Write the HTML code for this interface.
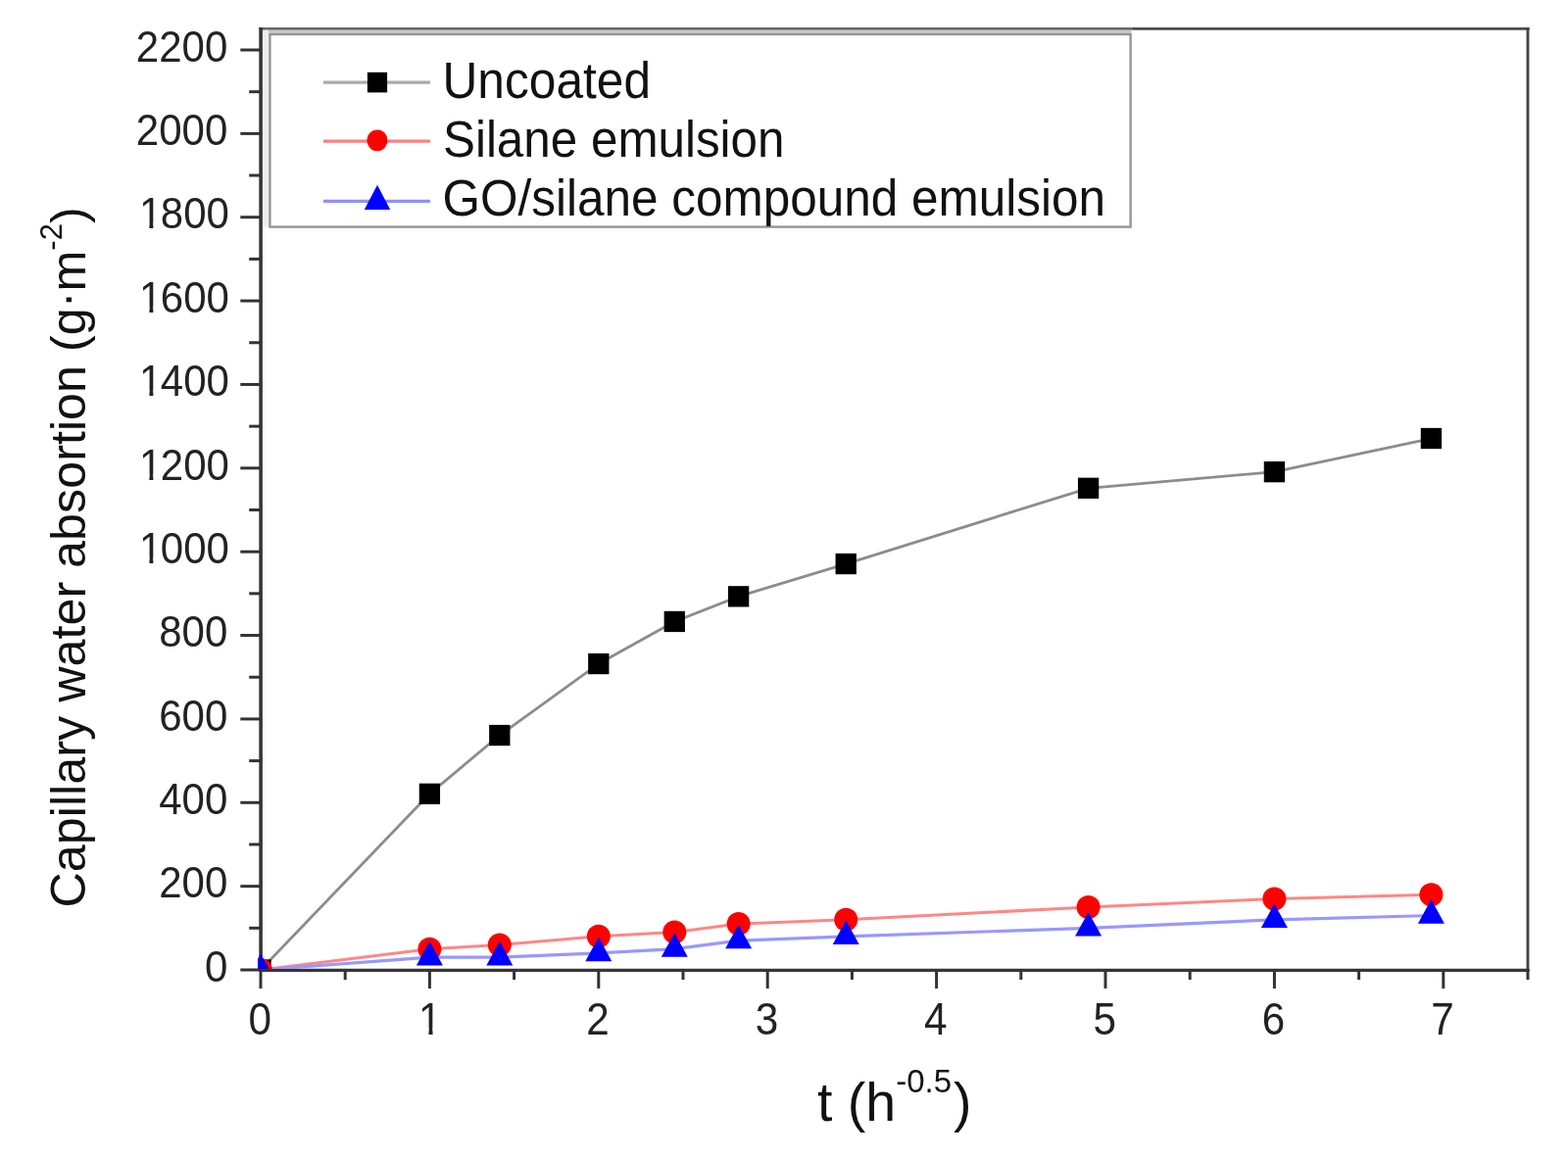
<!DOCTYPE html><html><head><meta charset="utf-8"><title>Capillary water absorption</title>
<style>html,body{margin:0;padding:0;background:#fff;overflow:hidden}svg{display:block}text{font-family:"Liberation Sans", sans-serif}</style></head><body>
<svg width="1600" height="1181" viewBox="0 0 1600 1181">
<rect width="1600" height="1181" fill="#fff"/>
<defs><clipPath id="pm"><rect x="263" y="29.7" width="1296.0" height="959.3"/></clipPath></defs>
<g stroke-linecap="butt">
<line x1="264.5" y1="29.4" x2="1156" y2="29.4" stroke="#686868" stroke-width="2.9"/>
<line x1="1156" y1="29.4" x2="1560.5" y2="29.4" stroke="#4d4d4d" stroke-width="2.9"/>
<line x1="1559.0" y1="28" x2="1559.0" y2="991.5" stroke="#444" stroke-width="2.9"/>
<line x1="266.1" y1="28" x2="266.1" y2="991.5" stroke="#363636" stroke-width="3.6"/>
<line x1="264.5" y1="990.3" x2="1560.5" y2="990.3" stroke="#363636" stroke-width="3.2"/>
<line x1="245.3" y1="990.00" x2="266" y2="990.00" stroke="#333" stroke-width="3"/>
<line x1="254.2" y1="947.32" x2="266" y2="947.32" stroke="#333" stroke-width="3"/>
<line x1="245.3" y1="904.64" x2="266" y2="904.64" stroke="#333" stroke-width="3"/>
<line x1="254.2" y1="861.95" x2="266" y2="861.95" stroke="#333" stroke-width="3"/>
<line x1="245.3" y1="819.27" x2="266" y2="819.27" stroke="#333" stroke-width="3"/>
<line x1="254.2" y1="776.59" x2="266" y2="776.59" stroke="#333" stroke-width="3"/>
<line x1="245.3" y1="733.91" x2="266" y2="733.91" stroke="#333" stroke-width="3"/>
<line x1="254.2" y1="691.23" x2="266" y2="691.23" stroke="#333" stroke-width="3"/>
<line x1="245.3" y1="648.54" x2="266" y2="648.54" stroke="#333" stroke-width="3"/>
<line x1="254.2" y1="605.86" x2="266" y2="605.86" stroke="#333" stroke-width="3"/>
<line x1="245.3" y1="563.18" x2="266" y2="563.18" stroke="#333" stroke-width="3"/>
<line x1="254.2" y1="520.50" x2="266" y2="520.50" stroke="#333" stroke-width="3"/>
<line x1="245.3" y1="477.82" x2="266" y2="477.82" stroke="#333" stroke-width="3"/>
<line x1="254.2" y1="435.13" x2="266" y2="435.13" stroke="#333" stroke-width="3"/>
<line x1="245.3" y1="392.45" x2="266" y2="392.45" stroke="#333" stroke-width="3"/>
<line x1="254.2" y1="349.77" x2="266" y2="349.77" stroke="#333" stroke-width="3"/>
<line x1="245.3" y1="307.09" x2="266" y2="307.09" stroke="#333" stroke-width="3"/>
<line x1="254.2" y1="264.41" x2="266" y2="264.41" stroke="#333" stroke-width="3"/>
<line x1="245.3" y1="221.72" x2="266" y2="221.72" stroke="#333" stroke-width="3"/>
<line x1="254.2" y1="179.04" x2="266" y2="179.04" stroke="#333" stroke-width="3"/>
<line x1="245.3" y1="136.36" x2="266" y2="136.36" stroke="#333" stroke-width="3"/>
<line x1="254.2" y1="93.68" x2="266" y2="93.68" stroke="#333" stroke-width="3"/>
<line x1="245.3" y1="51.00" x2="266" y2="51.00" stroke="#333" stroke-width="3"/>
<line x1="266.00" y1="990" x2="266.00" y2="1009" stroke="#333" stroke-width="3"/>
<line x1="352.20" y1="990" x2="352.20" y2="1000" stroke="#333" stroke-width="3"/>
<line x1="438.40" y1="990" x2="438.40" y2="1009" stroke="#333" stroke-width="3"/>
<line x1="524.60" y1="990" x2="524.60" y2="1000" stroke="#333" stroke-width="3"/>
<line x1="610.80" y1="990" x2="610.80" y2="1009" stroke="#333" stroke-width="3"/>
<line x1="697.00" y1="990" x2="697.00" y2="1000" stroke="#333" stroke-width="3"/>
<line x1="783.20" y1="990" x2="783.20" y2="1009" stroke="#333" stroke-width="3"/>
<line x1="869.40" y1="990" x2="869.40" y2="1000" stroke="#333" stroke-width="3"/>
<line x1="955.60" y1="990" x2="955.60" y2="1009" stroke="#333" stroke-width="3"/>
<line x1="1041.80" y1="990" x2="1041.80" y2="1000" stroke="#333" stroke-width="3"/>
<line x1="1128.00" y1="990" x2="1128.00" y2="1009" stroke="#333" stroke-width="3"/>
<line x1="1214.20" y1="990" x2="1214.20" y2="1000" stroke="#333" stroke-width="3"/>
<line x1="1300.40" y1="990" x2="1300.40" y2="1009" stroke="#333" stroke-width="3"/>
<line x1="1386.60" y1="990" x2="1386.60" y2="1000" stroke="#333" stroke-width="3"/>
<line x1="1472.80" y1="990" x2="1472.80" y2="1009" stroke="#333" stroke-width="3"/>
<line x1="1559.00" y1="990" x2="1559.00" y2="1000" stroke="#333" stroke-width="3"/>
</g>
<rect x="268" y="30.8" width="886.5" height="3" fill="#c8c8c8"/>
<rect x="268.5" y="30.8" width="5.5" height="201" fill="#eeeeee"/>
<rect x="275.4" y="35" width="878.2" height="196.6" fill="none" stroke="#959595" stroke-width="2.4"/>
<line x1="330" y1="84.1" x2="439" y2="84.1" stroke="#aaa" stroke-width="3.4"/>
<line x1="330" y1="144.1" x2="439" y2="144.1" stroke="#ff7f7f" stroke-width="3.2"/>
<line x1="330" y1="205.4" x2="439" y2="205.4" stroke="#9090ff" stroke-width="3.4"/>
<rect x="374.9" y="73.8" width="20.2" height="20.6" fill="#000"/>
<ellipse cx="385" cy="143.3" rx="10.5" ry="10.9" fill="#f00"/>
<polygon points="385.0,188.8 371.8,214.0 398.2,214.0" fill="#00f"/>
<text transform="translate(451.5,100) scale(1,1.045)" font-size="50" fill="#111" textLength="212.5" lengthAdjust="spacingAndGlyphs">Uncoated</text>
<text transform="translate(452,160) scale(1,1.045)" font-size="50" fill="#111" textLength="348.5" lengthAdjust="spacingAndGlyphs">Silane emulsion</text>
<text transform="translate(451.5,220) scale(1,1.045)" font-size="50" fill="#111" textLength="676.5" lengthAdjust="spacingAndGlyphs">GO/silane compound emulsion</text>
<g clip-path="url(#pm)" fill="none" stroke-linejoin="round">
<path d="M266.00,990.00 C266.00,990.00 438.40,810.31 438.40,810.31 C438.40,810.31 509.81,750.55 509.81,750.55 C509.81,750.55 610.80,677.57 610.80,677.57 C610.80,677.57 688.29,634.46 688.29,634.46 C688.29,634.46 753.62,608.85 753.62,608.85 C753.62,608.85 863.21,575.56 863.21,575.56 C863.21,575.56 1110.58,498.30 1110.58,498.30 C1110.58,498.30 1300.40,481.66 1300.40,481.66 C1300.40,481.66 1460.42,447.51 1460.42,447.51" stroke="#8c8c8c" stroke-width="2.8"/>
<path d="M266.00,990.00 C266.00,990.00 438.40,968.66 438.40,968.66 C438.40,968.66 509.81,964.39 509.81,964.39 C509.81,964.39 610.80,955.85 610.80,955.85 C610.80,955.85 688.29,951.59 688.29,951.59 C688.29,951.59 753.62,943.05 753.62,943.05 C753.62,943.05 863.21,938.78 863.21,938.78 C863.21,938.78 1110.58,925.98 1110.58,925.98 C1110.58,925.98 1300.40,917.44 1300.40,917.44 C1300.40,917.44 1460.42,913.17 1460.42,913.17" stroke="#ff8686" stroke-width="3.0"/>
<path d="M266.00,990.00 C266.00,990.00 438.40,977.20 438.40,977.20 C438.40,977.20 509.81,977.20 509.81,977.20 C509.81,977.20 610.80,972.93 610.80,972.93 C610.80,972.93 688.29,968.66 688.29,968.66 C688.29,968.66 753.62,960.12 753.62,960.12 C753.62,960.12 863.21,955.85 863.21,955.85 C863.21,955.85 1110.58,947.32 1110.58,947.32 C1110.58,947.32 1300.40,938.78 1300.40,938.78 C1300.40,938.78 1460.42,934.51 1460.42,934.51" stroke="#9898ff" stroke-width="3.2"/>
</g>
<g clip-path="url(#pm)">
<rect x="255.35" y="979.35" width="21.3" height="21.3" fill="#000"/>
<rect x="427.75" y="799.66" width="21.3" height="21.3" fill="#000"/>
<rect x="499.16" y="739.90" width="21.3" height="21.3" fill="#000"/>
<rect x="600.15" y="666.92" width="21.3" height="21.3" fill="#000"/>
<rect x="677.64" y="623.81" width="21.3" height="21.3" fill="#000"/>
<rect x="742.97" y="598.20" width="21.3" height="21.3" fill="#000"/>
<rect x="852.56" y="564.91" width="21.3" height="21.3" fill="#000"/>
<rect x="1099.93" y="487.65" width="21.3" height="21.3" fill="#000"/>
<rect x="1289.75" y="471.01" width="21.3" height="21.3" fill="#000"/>
<rect x="1449.77" y="436.86" width="21.3" height="21.3" fill="#000"/>
<circle cx="266.00" cy="990.00" r="12.0" fill="#f00"/>
<circle cx="438.40" cy="968.66" r="12.0" fill="#f00"/>
<circle cx="509.81" cy="964.39" r="12.0" fill="#f00"/>
<circle cx="610.80" cy="955.85" r="12.0" fill="#f00"/>
<circle cx="688.29" cy="951.59" r="12.0" fill="#f00"/>
<circle cx="753.62" cy="943.05" r="12.0" fill="#f00"/>
<circle cx="863.21" cy="938.78" r="12.0" fill="#f00"/>
<circle cx="1110.58" cy="925.98" r="12.0" fill="#f00"/>
<circle cx="1300.40" cy="917.44" r="12.0" fill="#f00"/>
<circle cx="1460.42" cy="913.17" r="12.0" fill="#f00"/>
<polygon points="266.00,973.60 252.50,998.20 279.50,998.20" fill="#00f"/>
<polygon points="438.40,960.80 424.90,985.40 451.90,985.40" fill="#00f"/>
<polygon points="509.81,960.80 496.31,985.40 523.31,985.40" fill="#00f"/>
<polygon points="610.80,956.53 597.30,981.13 624.30,981.13" fill="#00f"/>
<polygon points="688.29,952.26 674.79,976.86 701.79,976.86" fill="#00f"/>
<polygon points="753.62,943.72 740.12,968.32 767.12,968.32" fill="#00f"/>
<polygon points="863.21,939.45 849.71,964.05 876.71,964.05" fill="#00f"/>
<polygon points="1110.58,930.92 1097.08,955.52 1124.08,955.52" fill="#00f"/>
<polygon points="1300.40,922.38 1286.90,946.98 1313.90,946.98" fill="#00f"/>
<polygon points="1460.42,918.11 1446.92,942.71 1473.92,942.71" fill="#00f"/>
</g>
<text transform="translate(232.3,1001.75) scale(0.955,1)" font-size="44" fill="#222" text-anchor="end">0</text>
<text transform="translate(232.3,916.39) scale(0.955,1)" font-size="44" fill="#222" text-anchor="end">200</text>
<text transform="translate(232.3,831.02) scale(0.955,1)" font-size="44" fill="#222" text-anchor="end">400</text>
<text transform="translate(232.3,745.66) scale(0.955,1)" font-size="44" fill="#222" text-anchor="end">600</text>
<text transform="translate(232.3,660.29) scale(0.955,1)" font-size="44" fill="#222" text-anchor="end">800</text>
<text transform="translate(232.3,574.93) scale(0.955,1)" font-size="44" fill="#222" text-anchor="end"><tspan dx="1.7">1</tspan><tspan dx="-1.7">000</tspan></text>
<text transform="translate(232.3,489.57) scale(0.955,1)" font-size="44" fill="#222" text-anchor="end"><tspan dx="1.7">1</tspan><tspan dx="-1.7">200</tspan></text>
<text transform="translate(232.3,404.20) scale(0.955,1)" font-size="44" fill="#222" text-anchor="end"><tspan dx="1.7">1</tspan><tspan dx="-1.7">400</tspan></text>
<text transform="translate(232.3,318.84) scale(0.955,1)" font-size="44" fill="#222" text-anchor="end"><tspan dx="1.7">1</tspan><tspan dx="-1.7">600</tspan></text>
<text transform="translate(232.3,233.47) scale(0.955,1)" font-size="44" fill="#222" text-anchor="end"><tspan dx="1.7">1</tspan><tspan dx="-1.7">800</tspan></text>
<text transform="translate(232.3,148.11) scale(0.955,1)" font-size="44" fill="#222" text-anchor="end">2000</text>
<text transform="translate(232.3,62.75) scale(0.955,1)" font-size="44" fill="#222" text-anchor="end">2200</text>
<text transform="translate(265.20,1055.5) scale(0.96,1.045)" font-size="44" fill="#222" text-anchor="middle">0</text>
<text transform="translate(438.80,1055.5) scale(0.96,1.045)" font-size="44" fill="#222" text-anchor="middle">1</text>
<text transform="translate(610.00,1055.5) scale(0.96,1.045)" font-size="44" fill="#222" text-anchor="middle">2</text>
<text transform="translate(782.40,1055.5) scale(0.96,1.045)" font-size="44" fill="#222" text-anchor="middle">3</text>
<text transform="translate(954.80,1055.5) scale(0.96,1.045)" font-size="44" fill="#222" text-anchor="middle">4</text>
<text transform="translate(1127.20,1055.5) scale(0.96,1.045)" font-size="44" fill="#222" text-anchor="middle">5</text>
<text transform="translate(1299.60,1055.5) scale(0.96,1.045)" font-size="44" fill="#222" text-anchor="middle">6</text>
<text transform="translate(1472.00,1055.5) scale(0.96,1.045)" font-size="44" fill="#222" text-anchor="middle">7</text>
<rect x="144.3" y="568.93" width="8.1" height="6.4" fill="#fff"/><rect x="156.35" y="568.93" width="8.2" height="6.4" fill="#fff"/>
<rect x="144.3" y="483.57" width="8.1" height="6.4" fill="#fff"/><rect x="156.35" y="483.57" width="8.2" height="6.4" fill="#fff"/>
<rect x="144.3" y="398.20" width="8.1" height="6.4" fill="#fff"/><rect x="156.35" y="398.20" width="8.2" height="6.4" fill="#fff"/>
<rect x="144.3" y="312.84" width="8.1" height="6.4" fill="#fff"/><rect x="156.35" y="312.84" width="8.2" height="6.4" fill="#fff"/>
<rect x="144.3" y="227.47" width="8.1" height="6.4" fill="#fff"/><rect x="156.35" y="227.47" width="8.2" height="6.4" fill="#fff"/>
<rect x="429" y="1049.5" width="8.45" height="7" fill="#fff"/><rect x="441.55" y="1049.5" width="9" height="7" fill="#fff"/>
<text x="834" y="1143.7" font-size="55.5" fill="#111">t (h<tspan font-size="33" dy="-29">-0.5</tspan><tspan dy="29" dx="2">)</tspan></text>
<text transform="translate(87.4,926.5) rotate(-90)" font-size="50.3" fill="#111">Capillary water absortion (g<tspan dy="-3.6">·</tspan><tspan dy="3.6">m</tspan><tspan font-size="31" dy="-24.4">-2</tspan><tspan dy="24.4">)</tspan></text>
</svg></body></html>
